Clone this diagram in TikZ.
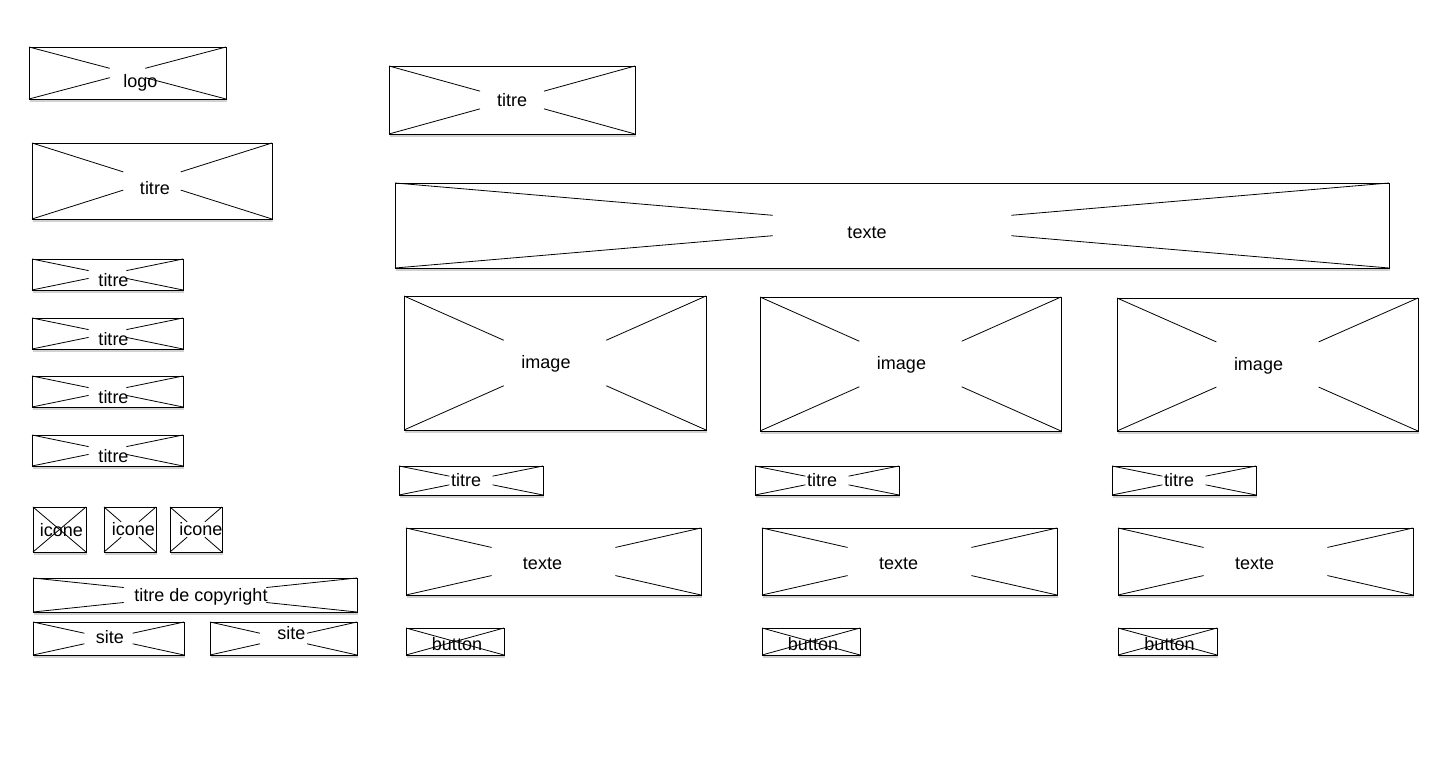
\documentclass[tikz,border=0pt]{standalone}
\usepackage{fontspec}
\setmainfont{Liberation Sans}
\usetikzlibrary{calc,shadows}
\tikzset{
  phb/.style={draw=black, line width=0.95pt, fill=white, inner sep=0pt, outer sep=0pt,
    drop shadow={shadow xshift=1pt, shadow yshift=-2.5pt, opacity=0.18, fill=black}},
  xline/.style={draw=black, line width=0.8pt},
  lbl/.style={inner sep=0pt, font=\fontsize{18}{21}\selectfont, text=black}
}
% #1 name, #2 x1, #3 y1, #4 x2, #5 y2, #6 text, #7 gap fraction, #8 text dx, #9 text dy
\newcommand{\phbox}[9]{%
  \node[phb, minimum width={(#4-#2)*1pt}, minimum height={(#5-#3)*1pt}] (#1) at ({(#2+#4)/2},{-(#3+#5)/2}) {};
  \draw[xline] (#1.north west) -- ($(#1.north west)!#7!(#1.south east)$);
  \draw[xline] (#1.south east) -- ($(#1.south east)!#7!(#1.north west)$);
  \draw[xline] (#1.south west) -- ($(#1.south west)!#7!(#1.north east)$);
  \draw[xline] (#1.north east) -- ($(#1.north east)!#7!(#1.south west)$);
  \node[lbl] (#1-t) at ([xshift=#8pt, yshift=-#9pt]#1.center) {#6};
}
\begin{document}
\begin{tikzpicture}[x=1pt,y=1pt]
\useasboundingbox[fill=white] (0,0) rectangle (1440,-760);
% left column
\phbox{logo}{29}{47}{226}{99}{logo}{0.41}{13}{10}
\phbox{ltitre}{32}{143}{272}{219}{titre}{0.38}{3}{7}
\phbox{lt1}{32}{259}{183}{290}{titre}{0.375}{6}{6}
\phbox{lt2}{32}{318}{183}{349}{titre}{0.375}{6}{6}
\phbox{lt3}{32}{376}{183}{407}{titre}{0.375}{6}{6}
\phbox{lt4}{32}{435}{183}{466}{titre}{0.375}{6}{6}
\phbox{ic1}{33}{507}{86}{552}{icone}{0.5}{2}{1}
\phbox{ic2}{104}{507}{156}{552}{icone}{0.33}{3.5}{0}
\phbox{ic3}{170}{507}{222}{552}{icone}{0.33}{5}{0}
\phbox{copy}{33}{578}{357}{612}{titre de copyright}{0.28}{6}{2}
\phbox{site1}{33}{622}{184}{655}{site}{0.34}{1.5}{-1}
\phbox{site2}{210}{622}{357}{655}{site}{0.34}{8}{-5}
% right area
\phbox{rtitre}{389}{66}{635}{134}{titre}{0.37}{0}{0}
\phbox{rtexte}{395}{183}{1389}{268}{texte}{0.38}{-25}{7}
% column 1
\phbox{img1}{404}{296}{706}{430}{image}{0.33}{-9}{1}
\phbox{tit1}{399}{466}{543}{495}{titre}{0.35}{-5}{0}
\phbox{txt1}{406}{528}{701}{595}{texte}{0.29}{-11}{2}
\phbox{btn1}{406}{628}{504}{655}{button}{0.5}{2}{3}
% column 2
\phbox{img2}{760}{297}{1061}{431}{image}{0.33}{-9}{1}
\phbox{tit2}{755}{466}{899}{495}{titre}{0.35}{-5}{0}
\phbox{txt2}{762}{528}{1057}{595}{texte}{0.29}{-11}{2}
\phbox{btn2}{762}{628}{860}{655}{button}{0.5}{2}{3}
% column 3
\phbox{img3}{1117}{298}{1418}{431}{image}{0.33}{-9}{1}
\phbox{tit3}{1112}{466}{1256}{495}{titre}{0.35}{-5}{0}
\phbox{txt3}{1118}{528}{1413}{595}{texte}{0.29}{-11}{2}
\phbox{btn3}{1118}{628}{1217}{655}{button}{0.5}{2}{3}
\end{tikzpicture}
\end{document}
